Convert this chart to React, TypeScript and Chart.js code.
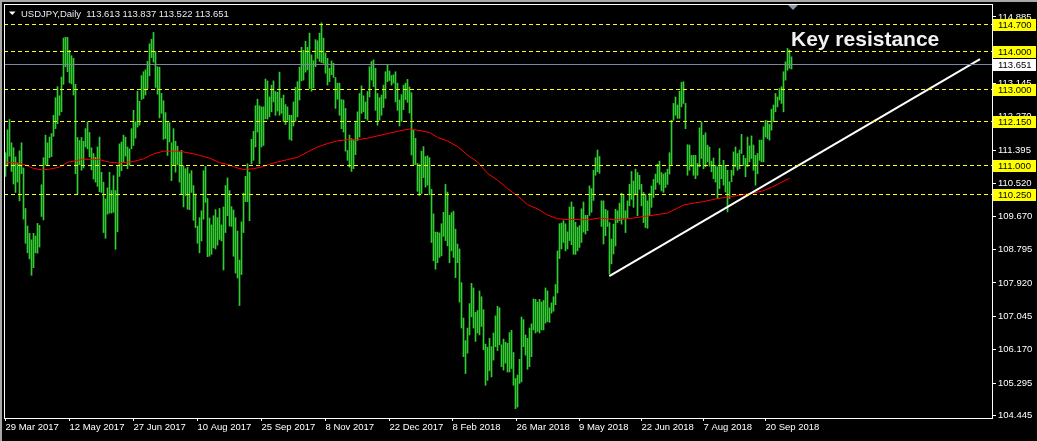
import { useEffect, useRef } from 'react';
import { Chart, registerables } from 'chart.js';

Chart.register(...registerables);

// ---- data ----
const highs = [
  111.33,111.93,112.20,111.59,111.46,111.22,111.06,111.38,111.59,110.93,
  109.87,109.41,109.22,109.05,109.22,109.15,109.48,109.43,110.49,111.20,
  111.79,111.59,111.74,111.83,112.31,112.77,113.06,112.82,113.31,114.33,
  114.35,114.35,114.01,113.87,113.80,113.12,111.73,111.65,111.73,111.63,
  111.96,112.14,111.86,111.46,111.31,111.21,111.48,111.74,110.82,110.56,
  110.12,110.41,110.82,110.34,110.73,110.34,110.99,111.56,111.61,111.79,
  111.74,111.48,111.43,111.96,112.44,112.14,112.94,112.68,113.35,113.45,
  113.50,113.72,114.18,114.30,114.48,113.98,113.58,113.57,112.88,112.69,
  112.38,112.12,112.12,111.59,111.96,111.63,111.50,111.35,111.39,110.99,
  110.91,110.95,110.78,110.86,110.47,110.25,109.41,109.63,
  109.81,110.86,110.97,110.13,109.62,109.44,109.68,109.84,109.63,109.87,
  109.44,109.91,110.47,110.67,110.34,109.92,109.83,109.63,109.28,108.52,
  109.52,110.27,110.71,111.04,110.82,111.68,111.89,112.56,112.73,112.56,
  112.53,112.53,113.26,113.21,112.79,113.10,113.21,112.93,112.91,113.44,
  112.75,112.84,112.59,112.53,112.31,112.31,112.66,113.04,113.19,113.57,
  114.09,114.01,114.25,114.09,114.46,113.89,113.74,114.29,114.26,114.46,
  114.73,114.33,113.94,113.80,113.54,113.73,113.67,113.30,113.15,113.15,
  112.72,112.71,112.49,111.39,111.79,111.70,111.65,112.12,112.40,112.88,
  113.08,112.82,112.66,112.93,113.58,113.72,113.76,113.54,112.88,112.77,
  112.84,113.10,113.45,113.63,113.47,113.35,113.37,113.45,113.15,112.71,
  112.85,113.10,113.15,113.25,113.05,112.90,111.93,111.71,111.05,111.02,
  111.37,111.49,111.23,111.25,111.20,110.37,109.73,109.25,109.25,109.23,
  109.47,109.77,110.50,110.30,109.69,109.76,109.80,109.33,108.94,108.81,
  107.93,107.00,106.41,106.74,107.38,107.91,107.79,107.15,107.20,107.71,
  107.56,107.22,106.32,106.24,106.47,106.25,106.61,107.06,107.31,107.27,
  106.30,106.45,106.37,106.34,106.62,106.68,106.10,105.42,105.51,105.92,
  107.03,106.96,106.56,106.47,106.74,106.85,107.50,107.49,107.42,107.49,
  107.42,107.46,107.79,107.71,107.27,107.40,107.56,107.88,108.76,109.47,
  109.49,109.55,109.47,109.26,109.91,110.04,109.91,109.51,109.38,109.42,
  109.86,110.04,109.69,109.69,110.46,110.39,110.87,111.20,111.40,111.23,
  110.07,110.07,109.85,109.81,109.50,109.07,109.46,109.85,109.81,110.01,
  110.27,110.24,109.81,110.07,110.50,110.84,110.59,110.90,110.81,110.74,
  110.50,110.29,110.24,110.07,110.26,110.46,110.63,110.77,111.03,111.11,
  110.81,110.77,110.81,110.90,111.33,
  112.18,112.62,112.79,112.58,112.94,113.17,113.19,112.62,111.54,111.53,
  111.26,111.26,111.26,111.05,111.98,112.14,111.79,111.85,111.53,111.48,
  111.11,111.19,111.00,110.96,111.44,111.00,111.13,111.00,110.87,110.57,
  110.87,111.35,111.48,111.31,111.40,111.81,111.26,111.18,111.74,111.51,
  111.77,111.53,111.26,111.31,111.66,111.66,112.01,112.18,112.16,112.07,
  112.47,112.58,112.88,112.79,113.01,113.06,113.45,113.71,114.06,114.02,
  113.84,
];

const lows = [
  110.71,110.98,111.24,110.84,110.51,110.29,110.56,110.07,110.78,109.59,
  108.96,108.71,108.55,108.12,108.32,108.71,108.70,108.86,109.66,109.57,
  111.01,110.99,111.20,111.23,111.76,111.96,112.09,112.31,112.40,113.12,
  113.58,113.45,113.16,113.13,112.84,110.78,110.25,111.01,110.87,110.93,
  111.48,111.43,111.22,110.88,110.64,110.56,110.45,110.31,110.29,109.24,
  109.09,109.72,109.75,109.75,109.77,108.80,109.26,110.71,110.86,111.08,
  111.24,110.91,111.00,111.43,111.52,111.71,112.00,112.05,112.72,112.75,
  112.84,113.01,113.34,113.82,113.70,113.04,112.86,112.24,112.36,111.68,
  111.70,111.26,111.61,110.60,111.02,110.82,111.01,110.56,110.25,109.91,
  110.21,109.85,109.84,110.29,109.56,109.37,108.96,108.71,
  109.02,109.59,110.03,108.61,108.62,108.67,108.84,108.81,108.91,109.06,
  109.02,108.26,109.24,109.68,109.41,109.40,108.62,108.18,108.05,107.33,
  108.14,109.24,110.05,110.05,109.55,111.04,111.13,111.48,111.87,111.04,
  111.48,111.52,112.22,112.21,112.27,112.40,112.66,112.31,112.42,112.31,
  112.36,112.14,112.07,112.18,111.68,111.65,112.03,112.15,112.27,112.71,
  113.21,113.23,113.44,113.50,113.01,112.94,113.03,113.58,113.80,113.72,
  113.69,113.67,113.41,113.10,113.19,113.37,113.30,112.49,112.73,112.31,
  111.96,111.87,111.37,111.13,110.95,110.84,110.91,111.28,111.65,111.74,
  112.36,112.40,112.22,112.18,112.79,113.23,113.06,112.44,112.05,112.18,
  112.31,112.51,112.75,113.19,113.22,113.10,113.15,112.66,112.44,112.03,
  112.15,112.46,112.72,112.65,112.37,111.27,111.01,111.02,110.32,110.21,
  110.26,110.68,110.43,110.48,110.23,108.98,108.50,108.28,108.45,108.59,
  108.63,109.14,109.03,108.89,108.45,108.76,108.59,108.06,108.45,107.42,
  106.74,105.99,105.55,106.08,106.56,107.03,106.74,106.39,106.61,106.56,
  106.78,106.17,105.24,105.37,105.62,105.46,105.90,106.25,106.15,106.30,
  105.73,105.64,105.82,105.59,105.59,105.68,105.24,104.63,104.67,105.29,
  105.33,106.25,106.03,105.66,105.73,105.99,106.69,106.61,106.65,106.61,
  106.69,106.69,106.87,106.91,106.89,107.13,107.18,107.35,107.66,108.56,
  108.81,108.98,108.76,108.81,109.03,108.92,108.67,108.67,108.76,108.85,
  108.98,109.25,109.20,109.29,109.69,109.77,110.08,110.74,110.83,110.79,
  109.40,108.94,109.16,109.40,108.15,108.42,108.68,108.89,109.50,109.55,
  109.46,109.59,109.24,109.63,109.94,110.11,109.90,110.24,109.68,110.37,
  109.94,109.50,109.37,109.35,109.68,109.90,110.16,110.37,110.55,110.50,
  110.33,110.29,110.42,110.50,110.77,
  111.00,112.18,112.31,112.23,112.23,112.53,112.62,111.96,110.74,110.87,
  110.97,110.74,110.65,110.74,110.96,111.18,110.91,110.96,111.09,110.98,
  110.83,110.65,110.56,110.13,110.39,110.65,110.48,110.30,109.78,110.13,
  110.57,110.74,110.96,110.87,110.91,111.31,111.00,110.70,110.96,111.09,
  111.18,110.87,110.48,110.78,111.13,111.09,111.09,111.74,111.70,111.66,
  111.92,112.14,112.40,112.53,112.71,112.62,112.40,113.23,113.49,113.54,
  113.52,
];

// moving average (bar index, value)
const maIdx = [0,6,10,14,18,22,27,31,39,47,52,57,64,69,74,79,87,94,97,102,107,112,116,119,124,129,134,141,146,151,156,161,166,171,176,181,186,191,197,202,207,212,216,221,226,231,236,241,246,251,256,261,266,271,276,281,286,292,297,304,314,322,331,336,339,344,349,356,364,372,378,383,387,392];
const maVal = [111.08,111.06,111.01,110.92,110.88,110.90,110.95,111.08,111.16,111.15,111.08,111.06,111.10,111.17,111.30,111.37,111.37,111.30,111.26,111.19,111.07,111.01,110.93,110.89,110.91,110.97,111.06,111.15,111.21,111.35,111.48,111.57,111.64,111.67,111.67,111.71,111.77,111.83,111.90,111.95,111.91,111.86,111.73,111.64,111.49,111.27,111.09,110.79,110.61,110.39,110.20,109.97,109.86,109.70,109.60,109.58,109.58,109.58,109.62,109.58,109.62,109.68,109.75,109.88,109.96,110.01,110.05,110.13,110.19,110.26,110.32,110.42,110.53,110.66];

// trend line (bar index, price)
const trendIdx = [301.9, 487.25];
const trendVal = [108.10, 113.78];

const dateTickIdx = [0, 32, 64, 96, 128, 160, 192, 223.5, 255.5, 286.75, 318, 349, 380];
const dateLabels = ['29 Mar 2017','12 May 2017','27 Jun 2017','10 Aug 2017','25 Sep 2017','8 Nov 2017','22 Dec 2017','8 Feb 2018','26 Mar 2018','9 May 2018','22 Jun 2018','7 Aug 2018','20 Sep 2018'];
const priceTicks = [104.445,105.295,106.170,107.045,107.920,108.795,109.670,110.520,111.395,112.270,113.145,114.015,114.885];
const levelLines = [114.700, 114.000, 113.000, 112.150, 111.000, 110.250];
const lastPrice = 113.651;
const titleText = 'USDJPY,Daily  113.613 113.837 113.522 113.651';
const noteText = 'Key resistance';

const FONT = 'Liberation Sans, Arial, sans-serif';

const overlay = {
  id: 'overlay',
  beforeDraw(chart: any) {
    const { ctx, width, height } = chart;
    ctx.save();
    ctx.fillStyle = '#000000';
    ctx.fillRect(0, 0, width, height);
    ctx.fillStyle = '#a8a8a8';
    ctx.fillRect(0, 0, 2, height);
    ctx.fillRect(0, 0, width, 2);
    ctx.restore();
  },
  afterDraw(chart: any) {
    const { ctx, chartArea: a, scales } = chart;
    const y = scales.y;
    ctx.save();
    ctx.beginPath();
    ctx.rect(a.left, a.top, a.right - a.left, a.bottom - a.top);
    ctx.clip();
    const lp = Math.round(y.getPixelForValue(lastPrice)) + 0.5;
    ctx.strokeStyle = '#7a8898';
    ctx.lineWidth = 1;
    ctx.beginPath();
    ctx.moveTo(a.left, lp);
    ctx.lineTo(a.right, lp);
    ctx.stroke();
    ctx.strokeStyle = '#ffff00';
    ctx.setLineDash([4, 3]);
    for (const v of levelLines) {
      const p = Math.round(y.getPixelForValue(v)) + 0.5;
      ctx.beginPath();
      ctx.moveTo(a.left, p);
      ctx.lineTo(a.right, p);
      ctx.stroke();
    }
    ctx.setLineDash([]);
    ctx.restore();

    ctx.save();
    ctx.strokeStyle = '#ffffff';
    ctx.lineWidth = 1;
    ctx.strokeRect(a.left + 0.5, a.top + 0.5, a.right - a.left, a.bottom - a.top);

    ctx.font = `9.5px ${FONT}`;
    ctx.textBaseline = 'middle';
    ctx.textAlign = 'left';
    const boxX = a.right + 1;
    const boxW = chart.width - boxX - 1;
    for (const v of levelLines) {
      const p = Math.round(y.getPixelForValue(v));
      ctx.fillStyle = '#ffff00';
      ctx.fillRect(boxX, p - 5, boxW, 12);
      ctx.fillStyle = '#000000';
      ctx.fillText(v.toFixed(3), a.right + 6, p + 1);
    }
    {
      const p = Math.round(y.getPixelForValue(lastPrice));
      ctx.fillStyle = '#ffffff';
      ctx.fillRect(boxX, p - 5, boxW, 12);
      ctx.fillStyle = '#000000';
      ctx.fillText(lastPrice.toFixed(3), a.right + 6, p + 1);
    }

    ctx.fillStyle = '#ffffff';
    ctx.beginPath();
    ctx.moveTo(9, 11.5);
    ctx.lineTo(15.5, 11.5);
    ctx.lineTo(12.25, 15);
    ctx.closePath();
    ctx.fill();
    ctx.font = `9.5px ${FONT}`;
    ctx.textBaseline = 'alphabetic';
    ctx.fillStyle = '#e8e8f4';
    ctx.fillText(titleText, 21, 17);

    ctx.font = `bold 21px ${FONT}`;
    ctx.fillStyle = '#f2f2f2';
    ctx.fillText(noteText, 791, 46);

    ctx.fillStyle = '#8896a8';
    ctx.beginPath();
    ctx.moveTo(788, 5);
    ctx.lineTo(798, 5);
    ctx.lineTo(793, 10);
    ctx.closePath();
    ctx.fill();
    ctx.restore();
  },
};

export default function App() {
  const ref = useRef<HTMLCanvasElement>(null);
  useEffect(() => {
    document.body.style.margin = '0';
    document.body.style.background = '#000';
    const bars = highs.map((h, i) => ({ x: i, y: [lows[i], h] }));
    const ma = maIdx.map((x, i) => ({ x, y: maVal[i] }));
    const trend = trendIdx.map((x, i) => ({ x, y: trendVal[i] }));
    const chart = new Chart(ref.current as HTMLCanvasElement, {
      type: 'bar',
      data: {
        datasets: [
          { type: 'line', data: trend, borderColor: '#ffffff', borderWidth: 2, pointRadius: 0, order: 0 } as any,
          { type: 'line', data: ma, borderColor: '#ff0000', borderWidth: 1, pointRadius: 0, tension: 0, order: 1 } as any,
          { type: 'bar', data: bars, backgroundColor: '#32cd32', borderWidth: 0, barThickness: 1, order: 2 } as any,
        ],
      },
      options: {
        responsive: false,
        animation: false,
        events: [],
        layout: { padding: { left: 4, top: 4, right: 0, bottom: 0 } },
        plugins: { legend: { display: false }, tooltip: { enabled: false }, title: { display: false } },
        scales: {
          x: {
            type: 'linear',
            position: 'bottom',
            offset: false,
            min: -0.75,
            max: 493.25,
            grid: { offset: false, drawOnChartArea: false, drawTicks: true, tickLength: 3, color: '#ffffff' },
            border: { display: false },
            ticks: {
              color: '#ffffff',
              font: { family: FONT, size: 9.5 },
              align: 'start',
              maxRotation: 0,
              autoSkip: false,
              padding: 1,
              callback: (_v: any, i: number) => dateLabels[i],
            },
            afterBuildTicks: (s: any) => { s.ticks = dateTickIdx.map((v) => ({ value: v })); },
            afterFit: (s: any) => { s.height = 23; s.paddingLeft = 0; s.paddingRight = 0; },
          },
          y: {
            type: 'linear',
            position: 'right',
            min: 104.385,
            max: 115.223,
            grid: { drawOnChartArea: false, drawTicks: true, tickLength: 4, color: '#ffffff' },
            border: { display: false },
            ticks: {
              color: '#ffffff',
              font: { family: FONT, size: 9.5 },
              padding: 2,
              callback: (v: any) => Number(v).toFixed(3),
            },
            afterBuildTicks: (s: any) => { s.ticks = priceTicks.map((v) => ({ value: v })); },
            afterFit: (s: any) => { s.width = 45; s.paddingTop = 0; s.paddingBottom = 0; },
          },
        },
      } as any,
      plugins: [overlay],
    });
    return () => chart.destroy();
  }, []);
  return <canvas ref={ref} width={1037} height={441} style={{ display: 'block' }} />;
}
